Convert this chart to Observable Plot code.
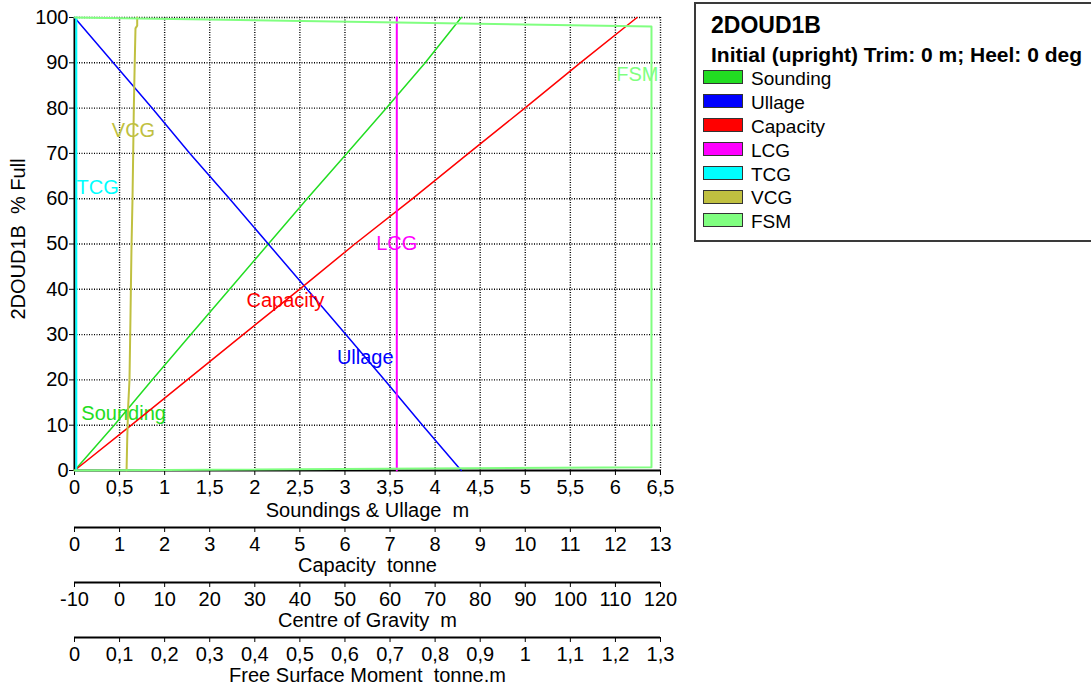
<!DOCTYPE html>
<html>
<head>
<meta charset="utf-8">
<script src="https://cdn.jsdelivr.net/npm/d3@7"></script>
<script src="https://cdn.jsdelivr.net/npm/@observablehq/plot@0.6"></script>
<style>
  html, body { margin: 0; padding: 0; background: #fff; }
  #wrap { position: relative; width: 1091px; height: 689px; overflow: hidden; background: #fff;
          font-family: "Liberation Sans", Arial, sans-serif; color: #000; }
  #wrap svg { position: absolute; left: 0; top: 0; }
  #wrap svg text { white-space: pre; }
  .lg-box { position: absolute; left: 694px; top: 2px; width: 430px; height: 240px;
            border: 2px solid #3a3a3a; box-sizing: border-box; }
  .lg-t { position: absolute; white-space: pre; line-height: 1; }
  .lg-sw { position: absolute; width: 40px; height: 14px; box-sizing: border-box; border: 1.5px solid #333; }
</style>
</head>
<body>
<div id="wrap"></div>
<script>
// ---------------- data ----------------
const pctLevels = [0, 10, 20, 30, 40, 50, 60, 70, 80, 90, 100];
const soundingM = [0, 0.44, 0.86, 1.29, 1.72, 2.15, 2.58, 3.02, 3.46, 3.89, 4.29];
const ullageM   = [4.29, 3.86, 3.44, 3.01, 2.58, 2.15, 1.72, 1.28, 0.86, 0.43, 0];
const capacityT = [0, 1.26, 2.50, 3.74, 4.99, 6.22, 7.50, 8.74, 9.99, 11.22, 12.48];
const lcgPct = [0, 100];
const lcgM   = [61.5, 61.5];
const tcgPct = [0, 100];
const tcgM   = [-9.6, -9.6];
const vcgPct = [0, 7, 14, 20, 34, 49, 60, 70, 80, 90, 97.6, 98.2, 100];
const vcgM   = [1.55, 1.70, 1.90, 2.20, 2.42, 2.64, 2.87, 3.02, 3.16, 3.36, 3.53, 3.91, 3.91];
const fsmPct = [0, 0.7, 98, 100];
const fsmTm  = [0, 1.28, 1.28, 0];

const seriesNames  = ["Sounding", "Ullage", "Capacity", "LCG", "TCG", "VCG", "FSM"];
const seriesColors = ["#22dd22", "#0000ff", "#ff0000", "#ff00ff", "#00ffff", "#c0c040", "#80ff80"];

const pctTicks   = [0, 10, 20, 30, 40, 50, 60, 70, 80, 90, 100];
const soundTicks = [0, 0.5, 1, 1.5, 2, 2.5, 3, 3.5, 4, 4.5, 5, 5.5, 6, 6.5];
const capTicks   = [0, 1, 2, 3, 4, 5, 6, 7, 8, 9, 10, 11, 12, 13];
const cogTicks   = [-10, 0, 10, 20, 30, 40, 50, 60, 70, 80, 90, 100, 110, 120];
const fsmTicks   = [0, 0.1, 0.2, 0.3, 0.4, 0.5, 0.6, 0.7, 0.8, 0.9, 1, 1.1, 1.2, 1.3];

const axisTitles = ["Soundings & Ullage  m", "Capacity  tonne", "Centre of Gravity  m", "Free Surface Moment  tonne.m"];
const yTitle = "2DOUD1B  % Full";
const legendTitle = "2DOUD1B";
const legendSubtitle = "Initial (upright) Trim: 0 m; Heel: 0 deg";

// ---------------- layout ----------------
const W = 690, H = 689, mL = 74, mR = 30, mT = 17, mB = 219;
const frameW = W - mL - mR;
const FONT = "'Liberation Sans', Arial, sans-serif";
const fmtComma = d => String(+(+d).toFixed(3)).replace(".", ",");
const dash = "1,1.5";

const rows = (ps, vs) => ps.map((p, i) => ({p, v: vs[i]}));

const axes = [
  {domain: [0, 6.5], ticks: soundTicks, title: axisTitles[0], offset: 0, titleDy: 40,
   series: [[0, pctLevels, soundingM, 1.5], [1, pctLevels, ullageM, 1.5]]},
  {domain: [0, 13], ticks: capTicks, title: axisTitles[1], offset: 57, titleDy: 38,
   series: [[2, pctLevels, capacityT, 1.5]]},
  {domain: [-10, 120], ticks: cogTicks, title: axisTitles[2], offset: 112, titleDy: 38,
   series: [[3, lcgPct, lcgM, 2], [4, tcgPct, tcgM, 2], [5, vcgPct, vcgM, 2]]},
  {domain: [0, 1.3], ticks: fsmTicks, title: axisTitles[3], offset: 167, titleDy: 38,
   series: [[6, fsmPct, fsmTm, 2]]}
];

// text measuring for label clamping
const ctx = document.createElement("canvas").getContext("2d");
ctx.font = "20px " + FONT;

function interp(ps, vs, p) {
  for (let i = 0; i < ps.length - 1; i++) {
    if (p >= ps[i] && p <= ps[i + 1]) {
      const t = (p - ps[i]) / (ps[i + 1] - ps[i] || 1);
      return vs[i] + t * (vs[i + 1] - vs[i]);
    }
  }
  return vs[vs.length - 1];
}

const wrap = document.getElementById("wrap");

axes.forEach((ax, ai) => {
  const [d0, d1] = ax.domain;
  const unitsPerPx = (d1 - d0) / frameW;
  const marks = [];
  if (ai === 0) {
    marks.push(
      Plot.ruleX(soundTicks.filter(d => d > 0), {stroke: "#000", strokeWidth: 1.4, strokeDasharray: dash}),
      Plot.ruleY(pctTicks.filter(d => d > 0), {stroke: "#000", strokeWidth: 1.4, strokeDasharray: dash}),
      Plot.axisY(pctTicks, {anchor: "left", tickSize: 5, tickPadding: 1, fontSize: 20, label: null, tickFormat: d => String(d)}),
      Plot.text([yTitle], {text: d => d, frameAnchor: "left", textAnchor: "middle", dx: -56, dy: -5, rotate: -90, fontSize: 20, lineAnchor: "middle"})
    );
  }
  // axis line
  marks.push(Plot.ruleY([0], {x1: d0, x2: d1, dy: ax.offset, stroke: "#000", strokeWidth: 2}));
  if (ai === 0) marks.push(Plot.ruleX([0], {stroke: "#000", strokeWidth: 2}));
  marks.push(
    Plot.axisX(ax.ticks, {anchor: "bottom", dy: ax.offset, tickSize: 5, tickPadding: 4, fontSize: 20,
      label: null, tickFormat: ai === 2 ? (d => String(d)) : fmtComma}),
    Plot.text([ax.title], {text: d => d, frameAnchor: "bottom", dy: ax.offset + ax.titleDy, fontSize: 20, lineAnchor: "middle"})
  );
  // series lines and in-plot labels
  ax.series.forEach(([k, ps, vs, sw]) => {
    marks.push(Plot.line(rows(ps, vs), {x: "v", y: "p", stroke: seriesColors[k], strokeWidth: sw}));
  });
  ax.series.forEach(([k, ps, vs]) => {
    const lp = (k + 1) * 12.5;
    let v = interp(ps, vs, lp);
    const half = (ctx.measureText(seriesNames[k]).width / 2 + 2) * unitsPerPx;
    v = Math.max(d0 + half, Math.min(d1 - half, v));
    marks.push(Plot.text([{p: lp, v, name: seriesNames[k]}], {x: "v", y: "p", text: "name", fill: seriesColors[k], fontSize: 20, lineAnchor: "middle"}));
  });

  const svg = Plot.plot({
    width: W, height: H,
    marginLeft: mL, marginRight: mR, marginTop: mT, marginBottom: mB,
    x: {domain: ax.domain},
    y: {domain: [0, 100], axis: ai === 0 ? undefined : null},
    style: {fontFamily: FONT, fontSize: "20px", background: "transparent", overflow: "visible", color: "#000"},
    marks
  });
  wrap.appendChild(svg);
});

// ---------------- legend ----------------
function el(cls, css, text) {
  const d = document.createElement("div");
  d.className = cls;
  Object.assign(d.style, css);
  if (text != null) d.textContent = text;
  wrap.appendChild(d);
  return d;
}
el("lg-box", {});
el("lg-t", {left: "711px", top: "13.5px", fontSize: "23px", fontWeight: "bold"}, legendTitle);
el("lg-t", {left: "711px", top: "43.7px", fontSize: "21px", fontWeight: "bold"}, legendSubtitle);
seriesNames.forEach((name, i) => {
  const y = 70 + 23.9 * i;
  el("lg-sw", {left: "703px", top: y + "px", background: seriesColors[i]});
  el("lg-t", {left: "751px", top: (y - 1.1) + "px", fontSize: "19px"}, name);
});
</script>
</body>
</html>
